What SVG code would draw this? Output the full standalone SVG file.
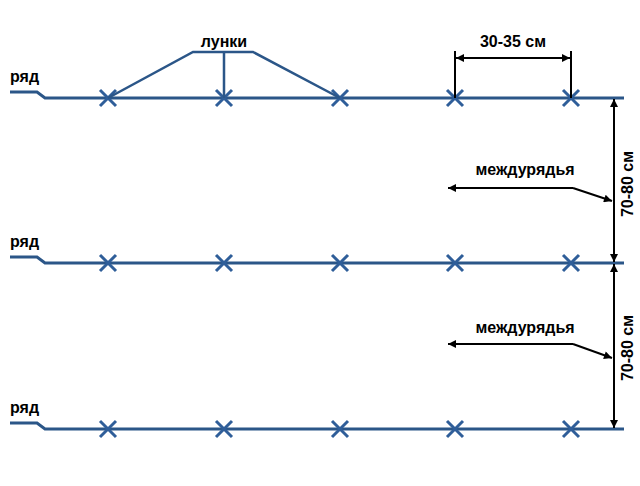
<svg xmlns="http://www.w3.org/2000/svg" width="640" height="486" viewBox="0 0 640 486">
<defs>
<style>
.row{fill:none;stroke:#2b5688;stroke-width:3}
.x{stroke:#2f5e99;stroke-width:3;fill:none}
.call{fill:none;stroke:#2b5688;stroke-width:2.5}
.dim{fill:none;stroke:#000;stroke-width:2}
.t{font-family:"Liberation Sans",Arial,sans-serif;font-weight:bold;font-size:16px;fill:#000}
</style>
<marker id="ah" viewBox="0 0 10 10" refX="10" refY="5" markerWidth="13" markerHeight="8" markerUnits="userSpaceOnUse" orient="auto-start-reverse">
<path d="M0,0 L10,5 L0,10 z" fill="#000"/>
</marker>
<g id="cross"><path class="x" d="M-8,-8 L8,8 M-8,8 L8,-8"/></g>
</defs>
<rect width="640" height="486" fill="#fff"/>
<g id="row1">
<path class="row" d="M10,92 L37,92 L45,98 L624,98"/>
<text class="t" x="10" y="82">ряд</text>
<use href="#cross" x="108" y="98"/><use href="#cross" x="224" y="98"/><use href="#cross" x="340" y="98"/><use href="#cross" x="455" y="98"/><use href="#cross" x="571" y="98"/>
</g>
<g id="row2">
<path class="row" d="M10,257 L37,257 L45,263 L624,263"/>
<text class="t" x="10" y="247">ряд</text>
<use href="#cross" x="108" y="263"/><use href="#cross" x="224" y="263"/><use href="#cross" x="340" y="263"/><use href="#cross" x="455" y="263"/><use href="#cross" x="571" y="263"/>
</g>
<g id="row3">
<path class="row" d="M10,423 L37,423 L45,429 L624,429"/>
<text class="t" x="10" y="413">ряд</text>
<use href="#cross" x="108" y="429"/><use href="#cross" x="224" y="429"/><use href="#cross" x="340" y="429"/><use href="#cross" x="455" y="429"/><use href="#cross" x="571" y="429"/>
</g>
<g id="lunki">
<text class="t" x="224" y="47" text-anchor="middle">лунки</text>
</g>
<g id="spacing">
<text class="t" x="513" y="47" text-anchor="middle">30-35 см</text>
</g>
<g id="interrow1">
<text class="t" x="525" y="175" text-anchor="middle">междурядья</text>
<text class="t" transform="translate(633,184) rotate(-90)" text-anchor="middle">70-80 см</text>
</g>
<g id="interrow2">
<text class="t" x="525" y="333" text-anchor="middle">междурядья</text>
<text class="t" transform="translate(633,348) rotate(-90)" text-anchor="middle">70-80 см</text>
</g>
<g id="connectors">
<path class="call" d="M108,98 L193,52 L253,52 L340,98 M224,52 L224,98"/>
<path class="dim" d="M455,51 L455,98 M571,51 L571,98"/>
<path class="dim" d="M456,58 L570,58" marker-start="url(#ah)" marker-end="url(#ah)"/>
<path class="dim" d="M614,99 L614,262" marker-start="url(#ah)" marker-end="url(#ah)"/>
<path class="dim" d="M614,264 L614,428" marker-start="url(#ah)" marker-end="url(#ah)"/>
<path class="dim" d="M573,188 L612,201" marker-end="url(#ah)"/>
<path class="dim" d="M573,188 L448,188" marker-end="url(#ah)"/>
<path class="dim" d="M573,344 L612,358" marker-end="url(#ah)"/>
<path class="dim" d="M573,344 L448,344" marker-end="url(#ah)"/>
</g>
</svg>
